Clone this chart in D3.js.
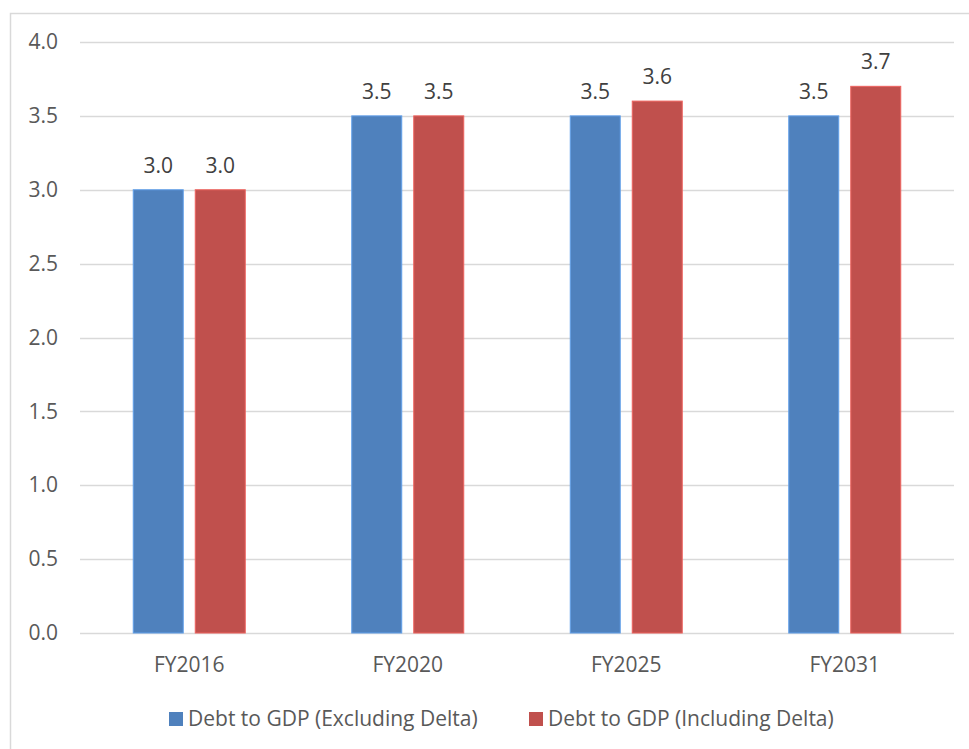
<!DOCTYPE html>
<html>
<head>
<meta charset="utf-8">
<script src="https://cdn.jsdelivr.net/npm/d3@7"></script>
<style>
  html, body { margin: 0; padding: 0; background: #fff; overflow: hidden; }
  svg { display: block; font-family: "Open Sans", "Liberation Sans", sans-serif; }
</style>
</head>
<body>
<svg id="chart" width="969" height="749"></svg>
<script>
// Chart data
const categories = ["FY2016", "FY2020", "FY2025", "FY2031"];
const seriesNames = ["Debt to GDP (Excluding Delta)", "Debt to GDP (Including Delta)"];
const excludingDelta = [3.0, 3.5, 3.5, 3.5];
const includingDelta = [3.0, 3.5, 3.6, 3.7];
const yTicks = [0, 0.5, 1.0, 1.5, 2.0, 2.5, 3.0, 3.5, 4.0];
const seriesColors = ["#4F81BD", "#C0504D"];

const seriesValues = [excludingDelta, includingDelta];

const svg = d3.select("#chart");

// Outer chart frame
svg.append("rect")
  .attr("x", 10.5).attr("y", 13.5)
  .attr("width", 980).attr("height", 760)
  .attr("fill", "#fff")
  .attr("stroke", "#d9d9d9")
  .attr("stroke-width", 1.5);

const plot = { left: 80, right: 954, top: 42, bottom: 633 };

const y = d3.scaleLinear().domain([0, 4]).range([plot.bottom, plot.top]);

const pad = 0.4874;
const x0 = d3.scaleBand()
  .domain(categories)
  .range([plot.left, plot.right])
  .paddingInner(pad)
  .paddingOuter(pad / 2);

const x1 = d3.scaleBand()
  .domain(d3.range(seriesNames.length))
  .range([0, x0.bandwidth()])
  .paddingInner(12 / 62);

// Horizontal gridlines
svg.append("g")
  .selectAll("line")
  .data(yTicks)
  .join("line")
  .attr("x1", plot.left).attr("x2", plot.right)
  .attr("y1", d => Math.round(y(d)) + 0.5)
  .attr("y2", d => Math.round(y(d)) + 0.5)
  .attr("stroke", "#d9d9d9")
  .attr("stroke-width", 1.5);

// Y axis labels
const yAxis = d3.axisLeft(y).tickValues(yTicks).tickFormat(d3.format(".1f")).tickSize(0).tickPadding(0);
const yg = svg.append("g")
  .attr("transform", `translate(${plot.left - 22},0)`)
  .call(yAxis);
yg.select(".domain").remove();
yg.selectAll("text")
  .attr("fill", "#595959")
  .style("font-size", "21px")
  .style("font-family", "'Open Sans', sans-serif");

// Bars
const groups = svg.append("g")
  .selectAll("g")
  .data(categories)
  .join("g")
  .attr("transform", d => `translate(${x0(d)},0)`);

groups.selectAll("rect")
  .data((c, i) => seriesValues.map((vals, s) => ({ s, v: vals[i] })))
  .join("rect")
  .attr("x", d => x1(d.s))
  .attr("width", x1.bandwidth())
  .attr("y", d => y(d.v))
  .attr("height", d => y(0) - y(d.v))
  .attr("fill", d => seriesColors[d.s])
  .attr("stroke", d => d3.color(seriesColors[d.s]).brighter(0.6))
  .attr("stroke-width", 1);

// Value labels
groups.selectAll("text")
  .data((c, i) => seriesValues.map((vals, s) => ({ s, v: vals[i] })))
  .join("text")
  .attr("x", d => x1(d.s) + x1.bandwidth() / 2)
  .attr("y", d => y(d.v) - 17)
  .attr("text-anchor", "middle")
  .attr("fill", "#404040")
  .style("font-size", "21px")
  .text(d => d3.format(".1f")(d.v));

// Category axis labels
const xAxis = d3.axisBottom(x0).tickSize(0).tickPadding(0);
const xg = svg.append("g")
  .attr("transform", `translate(0,${plot.bottom})`)
  .call(xAxis);
xg.select(".domain").remove();
xg.selectAll("text")
  .attr("fill", "#595959")
  .attr("y", 39)
  .attr("dy", null)
  .style("font-size", "21px")
  .style("font-family", "'Open Sans', sans-serif");

// Legend
const legendItems = [
  { name: seriesNames[0], color: seriesColors[0], x: 169 },
  { name: seriesNames[1], color: seriesColors[1], x: 529 }
];
const legend = svg.append("g")
  .selectAll("g")
  .data(legendItems)
  .join("g")
  .attr("transform", d => `translate(${d.x},712)`);
legend.append("rect")
  .attr("width", 14).attr("height", 14)
  .attr("fill", d => d.color);
legend.append("text")
  .attr("x", 19)
  .attr("y", 14)
  .attr("fill", "#595959")
  .style("font-size", "21px")
  .text(d => d.name);
</script>
</body>
</html>
